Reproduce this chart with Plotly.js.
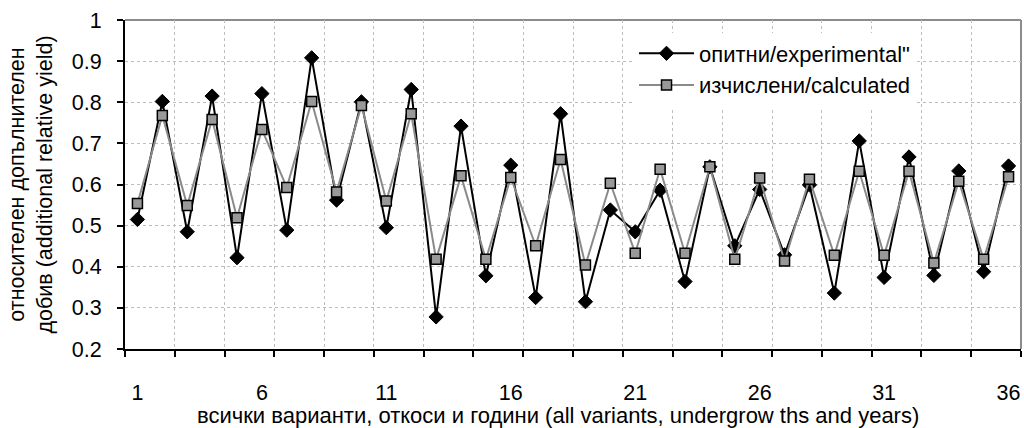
<!DOCTYPE html>
<html>
<head>
<meta charset="utf-8">
<script src="https://cdn.plot.ly/plotly-3.0.1.min.js"></script>
<style>html,body{margin:0;padding:0;background:#fff;}#chart{width:1024px;height:428px;}</style>
</head>
<body>
<div id="chart"></div>
<script>
const categories = [1,2,3,4,5,6,7,8,9,10,11,12,13,14,15,16,17,18,19,20,21,22,23,24,25,26,27,28,29,30,31,32,33,34,35,36];
const experimental = [0.515,0.802,0.485,0.815,0.422,0.821,0.489,0.908,0.562,0.801,0.495,0.831,0.278,0.742,0.378,0.647,0.325,0.772,0.315,0.538,0.485,0.586,0.364,0.643,0.451,0.588,0.429,0.599,0.336,0.706,0.374,0.667,0.379,0.633,0.388,0.645];
const calculated = [0.554,0.768,0.549,0.758,0.519,0.734,0.593,0.802,0.582,0.792,0.560,0.772,0.418,0.621,0.418,0.617,0.451,0.661,0.404,0.603,0.433,0.637,0.433,0.643,0.418,0.616,0.414,0.613,0.428,0.632,0.428,0.632,0.409,0.608,0.418,0.619];
const xTickLabels = [1,6,11,16,21,26,31,36];
const seriesNames = ['опитни/experimental"', 'изчислени/calculated'];
const xTitle = 'всички варианти, откоси и години (all variants, undergrow ths and years)';
const yTitle = 'относителен допълнителен<br>добив (additional relative yield)';

const FONT = 'Liberation Sans, Arial, sans-serif';
const n = categories.length;
const boundaries = [];
for (let b = 0.5; b <= n + 0.5; b += 2) boundaries.push(b);

const traces = [
  {
    x: categories, y: experimental, name: seriesNames[0], type: 'scatter', mode: 'lines+markers',
    line: {color: '#000000', width: 2},
    marker: {symbol: 'diamond', size: 11, color: '#000000', line: {color: '#000000', width: 1}},
    hoverinfo: 'x+y'
  },
  {
    x: categories, y: calculated, name: seriesNames[1], type: 'scatter', mode: 'lines+markers',
    line: {color: '#8a8a8a', width: 2},
    marker: {symbol: 'square', size: 10, color: '#999999', line: {color: '#000000', width: 1.5}},
    hoverinfo: 'x+y'
  },
  {
    x: categories, y: categories.map(() => null), xaxis: 'x2', yaxis: 'y',
    type: 'scatter', mode: 'markers', showlegend: false, hoverinfo: 'skip'
  }
];

const layout = {
  width: 1024, height: 428,
  margin: {l: 125, r: 3, t: 20, b: 79, pad: 0},
  paper_bgcolor: '#ffffff', plot_bgcolor: '#ffffff',
  font: {family: FONT, size: 21, color: '#000000'},
  showlegend: true,
  legend: {
    x: 0.5681, y: 0.962, xanchor: 'left', yanchor: 'top',
    bgcolor: '#ffffff', borderwidth: 0,
    font: {family: FONT, size: 22, color: '#000000'},
    itemwidth: 55, tracegroupgap: 0
  },
  xaxis: {
    range: [0.5, n + 0.5], tickmode: 'array', tickvals: boundaries, ticktext: boundaries.map(() => ''),
    ticks: 'outside', ticklen: 6, tickwidth: 2, tickcolor: '#000000',
    showgrid: true, gridcolor: '#bdbdbd', gridwidth: 1, griddash: 'dot',
    showline: true, linecolor: '#000000', linewidth: 2,
    zeroline: false, fixedrange: true
  },
  xaxis2: {
    overlaying: 'x', anchor: 'y', side: 'bottom',
    range: [0.5, n + 0.5], tickmode: 'array', tickvals: xTickLabels, ticktext: xTickLabels.map(String),
    ticks: '', showgrid: false, showline: false, zeroline: false,
    ticklabelstandoff: 28,
    tickfont: {family: FONT, size: 21.5, color: '#000000'}
  },
  yaxis: {
    range: [0.2, 1], dtick: 0.1, tick0: 0.2,
    ticks: 'outside', ticklen: 6, tickwidth: 2, tickcolor: '#000000',
    showgrid: true, gridcolor: '#bdbdbd', gridwidth: 1, griddash: 'dot',
    showline: true, linecolor: '#000000', linewidth: 2,
    zeroline: false, ticklabelstandoff: 11,
    tickfont: {family: FONT, size: 21.5, color: '#000000'},
    title: {text: yTitle, font: {family: FONT, size: 21.5, color: '#000000'}, standoff: 13},
    fixedrange: true
  },
  annotations: [
    {text: xTitle, xref: 'paper', yref: 'paper', x: 0.4833, y: -0.2033, xanchor: 'center', yanchor: 'middle',
     showarrow: false, font: {family: FONT, size: 22, color: '#000000'}}
  ],
  shapes: [
    {type: 'line', xref: 'paper', yref: 'paper', x0: 0, x1: 1, y0: 1, y1: 1, line: {color: '#8c8c8c', width: 2}, layer: 'below'},
    {type: 'line', xref: 'paper', yref: 'paper', x0: 1, x1: 1, y0: 0, y1: 1, line: {color: '#8c8c8c', width: 2}, layer: 'below'}
  ]
};

Plotly.newPlot('chart', traces, layout, {displayModeBar: false, staticPlot: true});
</script>
</body>
</html>
